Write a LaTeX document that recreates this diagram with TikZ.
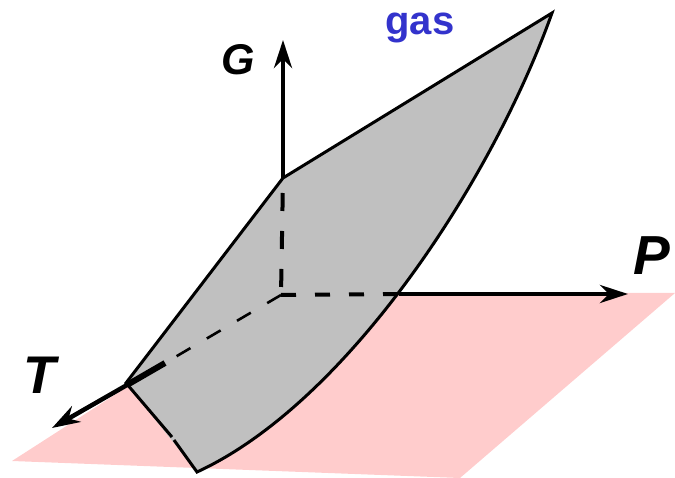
\documentclass[tikz,border=0pt]{standalone}
\usepackage{fontspec}
\setmainfont{Liberation Sans}
\usetikzlibrary{arrows.meta}
\definecolor{surf}{HTML}{C0C0C0}
\definecolor{plane}{HTML}{FFCCCC}
\definecolor{gasblue}{HTML}{3333CC}
\begin{document}
\begin{tikzpicture}[x=1pt,y=-1pt,
  edge/.style={line width=3pt, line join=miter},
  axisarrow/.style={line width=4.5pt, -{Stealth[length=28pt,width=18pt,inset=9pt]}},
  thickdash/.style={line width=4pt},
  thindash/.style={line width=2.6pt, dash pattern=on 16pt off 19pt},
  axlabel/.style={inner sep=0pt, anchor=base},
]
\useasboundingbox (0,0) rectangle (675,478);

% named points
\coordinate (O) at (281,295);
\coordinate (Gj) at (283,178);
\coordinate (Gtip) at (283,40);
\coordinate (Pj) at (399,294);
\coordinate (Ptip) at (628,294);
\coordinate (Tk) at (165,363);
\coordinate (Tj) at (127,385);
\coordinate (Ttip) at (52,428);
\coordinate (Stip) at (552,13);
\coordinate (Sleft) at (126,383);
\coordinate (Sbot) at (197,472);
\coordinate (Gap1) at (172,437);
\coordinate (Gap2) at (174,440);

% pink P-T plane
\fill[plane] (12,461) -- (127,387) -- (400,293) -- (675,293) -- (460,478) -- cycle;

% gray G surface
\fill[surf] (Stip) -- (Gj) -- (Sleft) -- (Sbot)
  .. controls (347,403) and (492,181) .. (Stip) -- cycle;
\draw[edge] (Gap2) -- (Sbot)
  .. controls (347,403) and (492,181) .. (Stip)
  -- (Gj) -- (Sleft) -- (Gap1);

% hidden axis parts (dashed)
\draw[thickdash, dash pattern=on 18pt off 20pt, dash phase=23pt] (Gj) -- (O);
\draw[thickdash, dash pattern=on 15pt off 19pt] (O) -- (Pj);
\draw[thindash] (O) -- (Tk);

% visible axis parts
\draw[axisarrow] (Gj) -- (Gtip);
\draw[axisarrow] (Pj) -- (Ptip);
\draw[line width=6pt] (Tk) -- (Tj);
\draw[axisarrow] (Tj) -- (Ttip);

% labels
\node[axlabel, font=\fontsize{43}{52}\selectfont\bfseries\itshape] (G) at (238,75) {G};
\node[axlabel, font=\fontsize{55}{66}\selectfont\bfseries\itshape] (P) at (652,275) {P};
\node[axlabel, font=\fontsize{53}{64}\selectfont\bfseries\itshape] (T) at (40,393) {T};
\node[axlabel, text=gasblue, font=\fontsize{40}{48}\selectfont\bfseries] (gas) at (420,35) {gas};
\end{tikzpicture}
\end{document}
